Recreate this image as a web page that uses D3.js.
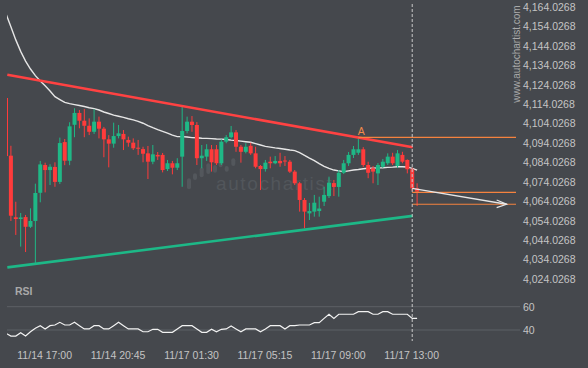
<!DOCTYPE html>
<html lang="en">
<head>
<meta charset="utf-8">
<title>Autochartist - triangle pattern</title>
<style>
body { margin: 0; background: #45484d; }
svg { display: block; font-family: "Liberation Sans", Arial, sans-serif; }
.axis text { fill: #c4c4c4; font-size: 10.5px; }
.axis path, .axis line { display: none; }
</style>
</head>
<body>
<div id="chart"></div>
<script src="https://d3js.org/d3.v7.min.js"></script>
<script>
// 15 minute candles, 11/14 16:00 .. 11/17 13:15
var opens = [4117.2, 4087.5, 4055.8, 4054.9, 4055.9, 4050.9, 4053.9, 4068.4, 4082.7, 4080.1,
  4081.7, 4074.0, 4094.5, 4084.9, 4103.4, 4109.5, 4105.5, 4102.9, 4099.8, 4105.0,
  4101.4, 4095.9, 4093.7, 4097.6, 4098.7, 4095.6, 4094.2, 4091.6, 4090.9, 4088.7,
  4084.4, 4087.9, 4087.9, 4080.6, 4083.6, 4081.3, 4087.0, 4100.2, 4105.0, 4103.3,
  4086.2, 4087.0, 4090.8, 4090.8, 4083.6, 4094.7, 4097.0, 4099.5, 4092.1, 4089.5,
  4092.6, 4088.7, 4082.2, 4080.6, 4084.4, 4083.6, 4084.8, 4085.0, 4084.4, 4079.3,
  4073.3, 4064.7, 4057.8, 4058.7, 4059.0, 4063.8, 4066.7, 4073.4, 4071.4, 4078.7,
  4083.6, 4087.9, 4089.0, 4090.8, 4082.7, 4081.0, 4078.4, 4081.8, 4083.6, 4087.0,
  4082.2, 4087.9, 4085.3, 4080.5, 4070.7];
var highs = [4118.0, 4092.6, 4063.8, 4058.0, 4057.0, 4060.4, 4073.1, 4084.8, 4083.9, 4083.1,
  4084.1, 4096.8, 4096.1, 4104.7, 4111.9, 4111.0, 4111.5, 4106.7, 4111.4, 4107.6,
  4102.3, 4098.1, 4104.5, 4103.3, 4100.7, 4097.3, 4096.4, 4095.6, 4092.1, 4092.5,
  4093.0, 4089.4, 4088.9, 4085.3, 4084.8, 4086.2, 4112.7, 4107.6, 4107.9, 4104.8,
  4093.0, 4093.4, 4093.0, 4093.0, 4095.9, 4098.1, 4102.8, 4100.7, 4093.0, 4093.9,
  4094.2, 4092.1, 4082.7, 4085.3, 4087.0, 4087.3, 4089.0, 4087.3, 4085.3, 4080.1,
  4074.0, 4065.7, 4063.2, 4067.3, 4066.4, 4071.5, 4076.7, 4075.0, 4080.1, 4085.3,
  4089.4, 4092.5, 4096.4, 4091.9, 4084.4, 4082.2, 4083.7, 4085.8, 4088.7, 4089.0,
  4090.4, 4089.5, 4085.6, 4081.3, 4073.3];
var lows = [4086.3, 4053.9, 4046.7, 4040.7, 4037.9, 4050.3, 4032.3, 4063.5, 4068.6, 4072.4,
  4071.5, 4072.9, 4082.6, 4082.6, 4097.0, 4101.6, 4097.0, 4098.1, 4098.7, 4096.4,
  4086.7, 4081.5, 4091.6, 4096.4, 4090.4, 4092.1, 4090.4, 4087.9, 4084.1, 4075.5,
  4083.1, 4085.3, 4078.9, 4079.6, 4077.9, 4080.1, 4071.5, 4099.0, 4099.8, 4082.7,
  4081.0, 4084.8, 4079.3, 4082.7, 4082.7, 4093.9, 4096.4, 4089.5, 4083.9, 4088.7,
  4087.9, 4081.0, 4069.8, 4079.3, 4081.0, 4083.1, 4081.8, 4082.2, 4078.6, 4072.4,
  4058.7, 4050.1, 4054.4, 4056.1, 4056.1, 4061.6, 4065.7, 4066.7, 4066.4, 4078.1,
  4082.2, 4086.3, 4087.9, 4081.7, 4075.9, 4073.3, 4072.4, 4081.2, 4082.7, 4082.7,
  4081.2, 4083.6, 4078.4, 4069.3, 4061.6];
var closes = [4087.3, 4056.6, 4054.9, 4055.7, 4050.9, 4053.9, 4068.3, 4083.0, 4080.1, 4081.8,
  4074.0, 4094.0, 4084.9, 4102.6, 4109.5, 4105.5, 4102.9, 4099.8, 4105.0, 4101.4,
  4095.9, 4093.7, 4097.6, 4099.0, 4095.9, 4094.2, 4091.3, 4091.1, 4088.5, 4084.4,
  4088.2, 4087.1, 4080.1, 4083.6, 4081.3, 4083.6, 4100.2, 4105.0, 4103.3, 4086.2,
  4087.5, 4090.8, 4084.1, 4083.6, 4094.7, 4097.0, 4099.5, 4092.1, 4089.5, 4092.1,
  4088.7, 4081.8, 4080.6, 4083.9, 4083.6, 4084.8, 4083.6, 4084.5, 4079.3, 4073.3,
  4064.7, 4058.7, 4059.0, 4063.3, 4060.3, 4067.3, 4073.6, 4071.4, 4078.7, 4083.6,
  4087.9, 4090.8, 4090.8, 4082.7, 4078.7, 4079.3, 4082.7, 4084.4, 4087.0, 4083.6,
  4088.7, 4084.4, 4080.5, 4070.7, 4069.0];
var movingAvg = [4160.5, 4153.8, 4147.1, 4141.2, 4136.2, 4132.1, 4128.7, 4125.9, 4123.5, 4120.8,
  4117.9, 4116.4, 4114.9, 4114.3, 4113.8, 4113.3, 4112.8, 4112.2, 4111.7, 4111.0,
  4110.0, 4109.2, 4108.4, 4107.8, 4107.2, 4106.5, 4105.9, 4105.2, 4104.2, 4103.0,
  4101.9, 4100.9, 4100.0, 4099.1, 4098.1, 4097.3, 4097.3, 4097.1, 4096.8, 4096.7,
  4096.5, 4096.4, 4096.3, 4096.1, 4096.0, 4095.8, 4095.5, 4095.3, 4095.0, 4094.7,
  4094.4, 4093.7, 4093.0, 4092.3, 4091.9, 4091.5, 4091.2, 4090.8, 4090.4, 4090.1,
  4089.1, 4087.7, 4086.3, 4085.0, 4083.4, 4082.0, 4081.0, 4080.1, 4079.7, 4079.3,
  4079.7, 4080.1, 4080.4, 4080.8, 4081.0, 4081.1, 4081.2, 4081.3, 4081.5, 4081.6,
  4081.8, 4081.8, 4081.7, 4081.0, 4080.1];
var rsi = [37.2, 34.8, 34.8, 37.7, 34.8, 38.5, 41.5, 43.7, 40.9, 43.7,
  44.3, 46.6, 44.3, 44.3, 46.6, 43.7, 40.9, 40.9, 43.7, 43.7,
  40.9, 40.9, 43.7, 46.6, 43.7, 40.9, 40.9, 40.9, 38.5, 38.5,
  40.6, 40.6, 38.0, 38.0, 38.0, 40.9, 43.7, 43.7, 43.7, 40.9,
  38.0, 38.0, 40.6, 38.5, 40.6, 40.9, 43.4, 40.9, 38.5, 40.9,
  40.9, 40.9, 38.5, 40.9, 43.7, 43.7, 43.7, 40.9, 43.7, 43.7,
  44.3, 44.3, 44.3, 46.3, 46.3, 50.0, 53.5, 50.0, 53.5, 53.5,
  53.5, 53.5, 55.7, 55.7, 55.7, 53.5, 53.5, 55.7, 55.7, 53.5,
  53.5, 53.5, 53.5, 50.0, 50.0];

var timeLabels = ["11/14 17:00", "11/14 20:45", "11/17 01:30", "11/17 05:15", "11/17 09:00", "11/17 13:00"];
var timeLabelIdx = [8, 23, 38, 53, 68, 83];
var priceTicks = [4164.0268, 4154.0268, 4144.0268, 4134.0268, 4124.0268, 4114.0268, 4104.0268,
  4094.0268, 4084.0268, 4074.0268, 4064.0268, 4054.0268, 4044.0268, 4034.0268, 4024.0268];
var rsiTicks = [40, 60];

// triangle pattern: [start index, start price, end index, end price]
var resistance = [0.27, 4129.2, 83.1, 4091.8];
var support = [0.27, 4030.0, 83.1, 4056.5];
var patternLevel = { idx: 72, price: 4096.9, label: "A" };
var forecastLevels = [4068.6, 4062.5];
var forecastArrow = [83, 4070.7, 102.3, 4062.5];
var nowIdx = 83;

var W = 588, H = 368;
var plotLeft = 7, plotRight = 516;

var svg = d3.select("#chart").append("svg")
  .attr("width", W)
  .attr("height", H);

svg.append("rect").attr("width", W).attr("height", H).attr("fill", "#45484d");

var x = d3.scaleLinear().domain([0, 84]).range([6, 417.1]);
var y = d3.scaleLinear().domain([4024.0268, 4164.0268]).range([279, 7]);
var yR = d3.scaleLinear().domain([40, 60]).range([330, 306.7]);

svg.append("clipPath").attr("id", "plot")
  .append("rect").attr("x", plotLeft).attr("y", 0)
  .attr("width", plotRight - plotLeft).attr("height", H);

// watermark
var wm = svg.append("g");
var logoBars = [[189, 178.3, 189.3], [195, 173.3, 180], [201.7, 167.3, 177.3], [208.3, 163.3, 174],
  [215, 165, 172.7], [220.7, 161.7, 167.3], [226.7, 166, 171.7], [233.3, 158.3, 166]];
wm.selectAll("rect").data(logoBars).enter().append("rect")
  .attr("x", function(d) { return d[0] - 2; })
  .attr("y", function(d) { return d[1]; })
  .attr("width", 4)
  .attr("height", function(d) { return d[2] - d[1]; })
  .attr("rx", 2)
  .attr("fill", "#53575c");
wm.append("text")
  .attr("x", 216).attr("y", 190)
  .attr("font-size", "19px")
  .attr("letter-spacing", "1.6px")
  .attr("fill", "#52565b")
  .text("autochartist");

// side url
svg.append("text")
  .attr("transform", "translate(516,54) rotate(-90)")
  .attr("text-anchor", "middle")
  .attr("dominant-baseline", "central")
  .attr("font-size", "10px")
  .attr("fill", "#a9a9a9")
  .text("www.autochartist.com");

// price axis
svg.append("g")
  .attr("class", "axis")
  .attr("transform", "translate(523,0)")
  .call(d3.axisRight(y).tickValues(priceTicks).tickSize(0).tickPadding(0).tickFormat(d3.format(",.4f")));

// RSI grid + axis
svg.append("g").selectAll("line").data(rsiTicks).enter().append("line")
  .attr("x1", plotLeft).attr("x2", 520)
  .attr("y1", function(d) { return yR(d); })
  .attr("y2", function(d) { return yR(d); })
  .attr("stroke", "#5d6166").attr("stroke-width", 1);

svg.append("g")
  .attr("class", "axis")
  .attr("transform", "translate(523,0)")
  .call(d3.axisRight(yR).tickValues(rsiTicks).tickSize(0).tickPadding(0).tickFormat(d3.format("d")));

svg.append("text")
  .attr("x", 15).attr("y", 295)
  .attr("font-size", "10.5px").attr("font-weight", "bold")
  .attr("fill", "#a9a9a9")
  .text("RSI");

// time axis
svg.append("g")
  .attr("class", "axis")
  .attr("transform", "translate(-1,351.5)")
  .call(d3.axisBottom(x).tickValues(timeLabelIdx).tickSize(0).tickPadding(0)
    .tickFormat(function(d, i) { return timeLabels[i]; }));

var g = svg.append("g").attr("clip-path", "url(#plot)");

// moving average
g.append("path")
  .datum(movingAvg)
  .attr("fill", "none")
  .attr("stroke", "#e6e6e6")
  .attr("stroke-width", 1.4)
  .attr("d", d3.line().x(function(d, i) { return x(i); }).y(function(d) { return y(d); }));

// candles
var candles = g.selectAll(".candle").data(opens).enter().append("g").attr("class", "candle");
function col(i) { return closes[i] >= opens[i] ? "#1fb886" : "#ff3b3b"; }
candles.append("line")
  .attr("x1", function(d, i) { return x(i); })
  .attr("x2", function(d, i) { return x(i); })
  .attr("y1", function(d, i) { return y(highs[i]); })
  .attr("y2", function(d, i) { return y(lows[i]); })
  .attr("stroke", function(d, i) { return col(i); })
  .attr("stroke-width", 1);
candles.append("rect")
  .attr("x", function(d, i) { return x(i) - 2; })
  .attr("width", 4)
  .attr("y", function(d, i) { return y(Math.max(opens[i], closes[i])); })
  .attr("height", function(d, i) { return Math.max(1, Math.abs(y(opens[i]) - y(closes[i]))); })
  .attr("fill", function(d, i) { return col(i); });

// triangle lines
g.append("line")
  .attr("x1", x(resistance[0])).attr("y1", y(resistance[1]))
  .attr("x2", x(resistance[2])).attr("y2", y(resistance[3]))
  .attr("stroke", "#ff4242").attr("stroke-width", 2.6);
g.append("line")
  .attr("x1", x(support[0])).attr("y1", y(support[1]))
  .attr("x2", x(support[2])).attr("y2", y(support[3]))
  .attr("stroke", "#1db887").attr("stroke-width", 2.6);

// pattern point level
g.append("line")
  .attr("x1", x(patternLevel.idx)).attr("x2", plotRight)
  .attr("y1", y(patternLevel.price)).attr("y2", y(patternLevel.price))
  .attr("stroke", "#f5823f").attr("stroke-width", 1.2);
svg.append("text")
  .attr("x", x(patternLevel.idx) + 3).attr("y", y(patternLevel.price) - 2)
  .attr("text-anchor", "middle")
  .attr("font-size", "10.5px")
  .attr("fill", "#f08a4b")
  .text(patternLevel.label);

// forecast zone
g.selectAll(".lvl").data(forecastLevels).enter().append("line")
  .attr("x1", x(nowIdx)).attr("x2", plotRight)
  .attr("y1", function(d) { return y(d); })
  .attr("y2", function(d) { return y(d); })
  .attr("stroke", "#f5823f").attr("stroke-width", 1.2);

var ax1 = x(forecastArrow[0]), ay1 = y(forecastArrow[1]);
var ax2 = x(forecastArrow[2]), ay2 = y(forecastArrow[3]);
g.append("line")
  .attr("x1", ax1).attr("y1", ay1).attr("x2", ax2).attr("y2", ay2)
  .attr("stroke", "#e6e6e6").attr("stroke-width", 1.3);
g.append("path")
  .attr("d", "M" + (ax2 - 10) + "," + (ay2 - 4.3) + "L" + ax2 + "," + ay2 + "L" + (ax2 - 10) + "," + (ay2 + 3.4))
  .attr("fill", "none").attr("stroke", "#e6e6e6").attr("stroke-width", 1.2);

// now line
svg.append("line")
  .attr("x1", x(nowIdx)).attr("x2", x(nowIdx))
  .attr("y1", 4).attr("y2", 341)
  .attr("stroke", "#c9c9c9").attr("stroke-width", 1)
  .attr("stroke-dasharray", "3,2");

// RSI line
g.append("path")
  .datum(rsi)
  .attr("fill", "none")
  .attr("stroke", "#f2f2f2")
  .attr("stroke-width", 1.2)
  .attr("d", d3.line().x(function(d, i) { return x(i); }).y(function(d) { return yR(d); }));
</script>
</body>
</html>
